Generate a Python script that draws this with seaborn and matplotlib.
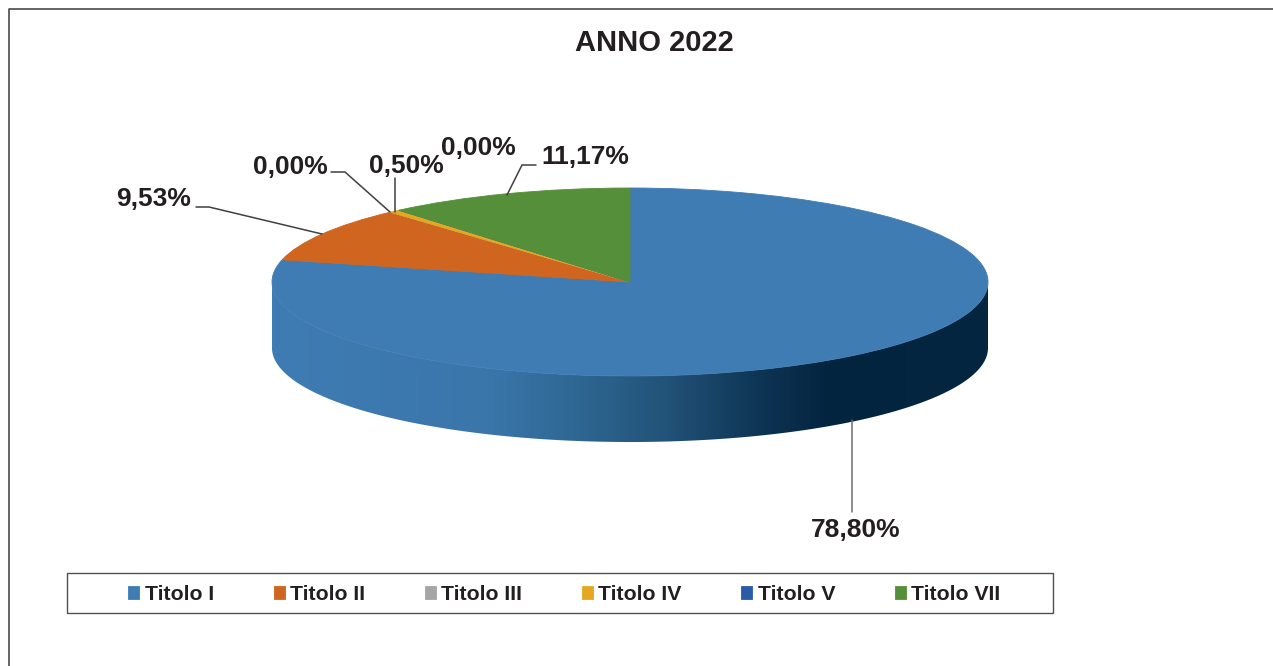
import numpy as np
import matplotlib
matplotlib.use("Agg")
import matplotlib.pyplot as plt
import seaborn as sns
from matplotlib.colors import LinearSegmentedColormap
from matplotlib.patches import Polygon, Rectangle
from matplotlib.lines import Line2D

categories = ["Titolo I", "Titolo II", "Titolo III", "Titolo IV", "Titolo V", "Titolo VII"]
shares = [78.80, 9.53, 0.00, 0.50, 0.00, 11.17]
title_text = "ANNO 2022"
slice_colors = ["#3F7CB3", "#CF651F", "#A5A5A5", "#E3A81F", "#2A5CA8", "#568F3A"]

sns.set_theme(style="white")
plt.rcParams["font.family"] = ["Liberation Sans", "DejaVu Sans"]
INK = "#231F20"

W, H = 1273, 666
CX, CY, RX, RY, DEPTH = 630, 282, 358, 94, 66

fig = plt.figure(figsize=(W / 100, H / 100), dpi=100, facecolor="white")
ax = fig.add_axes([0, 0, 1, 1])


def px(x, y):
    return (x - CX) / RX, (CY - y) / RY


wedges, _ = ax.pie(shares, colors=slice_colors, startangle=90, counterclock=False,
                   radius=1, center=(0, 0), wedgeprops=dict(linewidth=0, zorder=3))
for w in wedges:
    w.set_edgecolor(w.get_facecolor())
    w.set_linewidth(0.6)
ax.set_aspect("auto")

# side wall: gradient clipped to the band below the ellipse
theta = np.linspace(np.pi, 2 * np.pi, 300)
d = DEPTH / RY
top = np.column_stack([np.cos(theta), np.sin(theta)])
bot = np.column_stack([np.cos(theta), np.sin(theta) - d])
wall = Polygon(np.vstack([top, bot[::-1]]), closed=True, transform=ax.transData)
side_cmap = LinearSegmentedColormap.from_list(
    "side",
    [(0.00, "#3F7CB3"), (0.30, "#3A76AA"), (0.42, "#2F6894"), (0.55, "#225378"),
     (0.68, "#0E3555"), (0.78, "#03243F"), (1.00, "#05263F")],
)
im = ax.imshow(np.linspace(0, 1, 400)[None, :], cmap=side_cmap, aspect="auto",
               extent=(-1, 1, -1 - d, 0.5), zorder=2, interpolation="bilinear")
im.set_clip_path(wall)

ax.set_xlim((0 - CX) / RX, (W - CX) / RX)
ax.set_ylim((CY - H) / RY, CY / RY)
ax.axis("off")

# title
tx, ty = px(654, 43)
ax.text(tx, ty, title_text, ha="center", va="center", fontsize=21, fontweight="bold", color=INK)

# data labels and leader lines
label_xy = [(856, 530), (154, 199), (290, 167), (406, 166), (478, 148), (585, 157)]
leaders = [
    [(852, 420), (852, 512)],
    [(322, 234), (209, 207), (196, 207)],
    None,
    [(395, 212), (395, 178)],
    None,
    [(507, 195), (522, 165), (536, 165)],
]
zero_leader = [(390, 212), (345, 172), (331, 172)]
for i, (value, (lx, ly)) in enumerate(zip(shares, label_xy)):
    x, y = px(lx, ly)
    ax.text(x, y, f"{value:.2f}%".replace(".", ","), ha="center", va="center",
            fontsize=19, fontweight="bold", color=INK, zorder=6)
    if leaders[i]:
        pts = np.array([px(*p) for p in leaders[i]])
        ax.plot(pts[:, 0], pts[:, 1], color="#404040" if i else "#6E6E6E",
                lw=1.1, zorder=5, solid_joinstyle="miter")
pts = np.array([px(*p) for p in zero_leader])
ax.plot(pts[:, 0], pts[:, 1], color="#404040", lw=1.1, zorder=5)

# legend box and legend
fig.add_artist(Rectangle((67 / W, 1 - 613 / H), 986 / W, 40 / H, transform=fig.transFigure,
                         facecolor="white", edgecolor="#505050", lw=1.0))
leg = fig.legend(wedges, categories, loc="center", bbox_to_anchor=(564.5 / W, 1 - 594.5 / H),
                 ncol=6, frameon=False, prop=dict(size=15.3, weight="bold"),
                 columnspacing=2.81, handletextpad=0.25, handlelength=0.52, handleheight=0.52,
                 borderpad=0, borderaxespad=0, labelcolor=INK)

# outer chart frame (left and top edges)
fig.add_artist(Line2D([9 / W, 9 / W, 1], [0, 1 - 8.5 / H, 1 - 8.5 / H],
                      transform=fig.transFigure, color="#3A3A3A", lw=1.1))

fig.savefig("out.png", dpi=100, facecolor="white")
